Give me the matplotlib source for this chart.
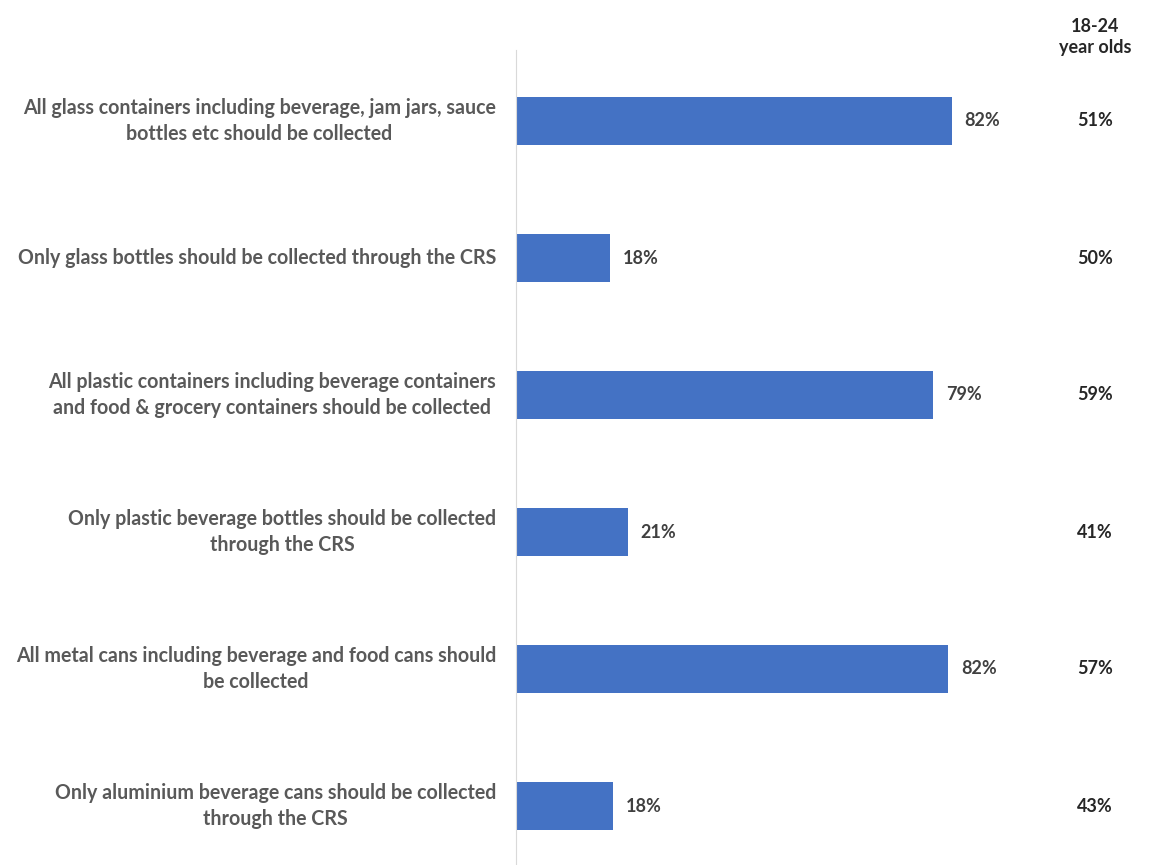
import matplotlib.pyplot as plt
from matplotlib.transforms import blended_transform_factory

# Data
statements = [
    "All glass containers including beverage, jam jars, sauce\nbottles etc should be collected",
    "Only glass bottles should be collected through the CRS",
    "All plastic containers including beverage containers\nand food & grocery containers should be collected",
    "Only plastic beverage bottles should be collected\nthrough the CRS",
    "All metal cans including beverage and food cans should\nbe collected",
    "Only aluminium beverage cans should be collected\nthrough the CRS",
]
all_pct = [81.9, 17.7, 78.4, 21.0, 81.2, 18.2]   # bar lengths
all_labels = [82, 18, 79, 21, 82, 18]            # printed values
young_pct = [51, 50, 59, 41, 57, 43]
header = "18-24\nyear olds"

plt.rcParams['font.family'] = ['Lato', 'DejaVu Sans']

fig = plt.figure(figsize=(11.51, 8.65), dpi=100)
W, H = 1151, 865
ax = fig.add_axes([516 / W, 0, (W - 516) / W, (865 - 50) / H])

ypos = list(range(len(statements)))
ax.barh(ypos, all_pct, height=0.35, color='#4472c4')
ax.set_ylim(5 + 59 / 137, -71 / 137)
ax.set_xlim(0, (W - 516) / 5.32)

for s in ['top', 'right', 'bottom']:
    ax.spines[s].set_visible(False)
ax.spines['left'].set_color('#d9d9d9')
ax.set_xticks([])
ax.set_yticks([])

for y, v, lab in zip(ypos, all_pct, all_labels):
    ax.text(v + 2.4, y, f"{lab}%", va='center', ha='left',
            fontsize=13, fontweight='bold', color='#404040')

tr = blended_transform_factory(fig.transFigure, ax.transData)
for y, lab, yv in zip(ypos, statements, young_pct):
    fig.text(496 / W, y, lab, transform=tr, ha='right', va='center',
             multialignment='center', fontsize=14.1, fontweight='bold',
             color='#595959', linespacing=1.35)
    fig.text(1095 / W, y, f"{yv}%", transform=tr, ha='center', va='center',
             fontsize=13, fontweight='bold', color='#262626')

fig.text(1095 / W, 1 - 37 / H, header, ha='center', va='center',
         fontsize=13, fontweight='bold', color='#262626', linespacing=1.25)

fig.savefig('out.png', dpi=100)
